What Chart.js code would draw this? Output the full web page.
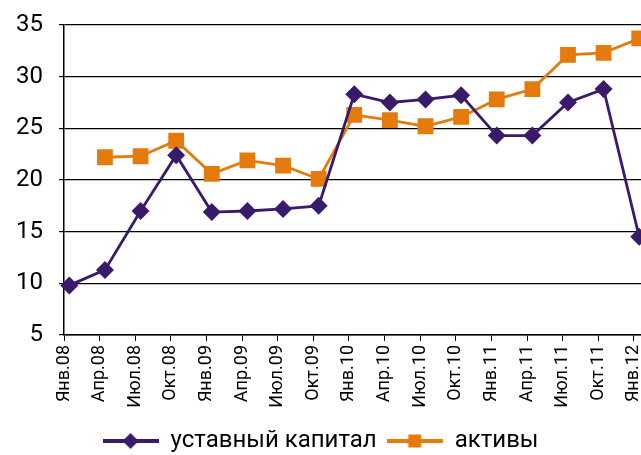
<!DOCTYPE html>
<html>
<head>
<meta charset="utf-8">
<script src="https://cdn.jsdelivr.net/npm/chart.js@4/dist/chart.umd.min.js"></script>
<style>
  html, body { margin: 0; padding: 0; background: #fff; overflow: hidden; }
  #wrap { width: 641px; height: 455px; }
</style>
</head>
<body>
<div id="wrap"><canvas id="chart"></canvas></div>
<script>
// quarter labels, placed at months since Jan 2008
const tickLabels = ["Янв.08", "Апр.08", "Июл.08", "Окт.08", "Янв.09", "Апр.09", "Июл.09", "Окт.09",
    "Янв.10", "Апр.10", "Июл.10", "Окт.10", "Янв.11", "Апр.11", "Июл.11", "Окт.11", "Янв.12"];
const tickMonths = [0, 3, 6, 9, 12, 15, 18, 21, 24, 27, 30, 33, 36, 39, 42, 45, 48];
// data points sit mid-month
const pointMonths = [0.45, 3.45, 6.45, 9.45, 12.45, 15.45, 18.45, 21.45, 24.45,
    27.45, 30.45, 33.45, 36.45, 39.45, 42.45, 45.45, 48.45];

const capital = [9.8, 11.3, 17.0, 22.4, 16.9, 17.0, 17.2, 17.5, 28.3, 27.5, 27.8, 28.2, 24.3, 24.3, 27.5, 28.8, 14.5];
const assets = [null, 22.2, 22.3, 23.8, 20.6, 21.9, 21.4, 20.1, 26.3, 25.8, 25.2, 26.1, 27.8, 28.8, 32.1, 32.3, 33.7];

const PURPLE = "#3a1a6a";
const ORANGE = "#e47b0c";

// legend marker: line with a point in the middle
const legendIcon = (color, shape) => {
    const c = document.createElement("canvas");
    c.width = 56;
    c.height = 18;
    const g = c.getContext("2d");
    g.strokeStyle = color;
    g.lineWidth = 4;
    g.beginPath();
    g.moveTo(0, 9);
    g.lineTo(56, 9);
    g.stroke();
    g.fillStyle = color;
    g.beginPath();
    if (shape === "diamond") {
        g.moveTo(28, 1);
        g.lineTo(36, 9);
        g.lineTo(28, 17);
        g.lineTo(20, 9);
        g.closePath();
    } else {
        g.rect(21.5, 2.5, 13, 13);
    }
    g.fill();
    return c;
};

const toPoints = (vals) => vals.map((v, i) => ({ x: pointMonths[i], y: v }));

new Chart(document.getElementById("chart"), {
    type: "line",
    data: {
        datasets: [
            {
                label: "уставный капитал",
                data: toPoints(capital),
                borderColor: PURPLE,
                backgroundColor: PURPLE,
                borderWidth: 2.8,
                pointStyle: "rectRot",
                pointRadius: 7,
                pointHoverRadius: 7,
                legendIcon: legendIcon(PURPLE, "diamond"),
            },
            {
                label: "активы",
                data: toPoints(assets),
                borderColor: ORANGE,
                backgroundColor: ORANGE,
                borderWidth: 2.8,
                pointStyle: "rect",
                pointRadius: 9.2,
                pointHoverRadius: 9.2,
                legendIcon: legendIcon(ORANGE, "square"),
            },
        ],
    },
    options: {
        responsive: true,
        maintainAspectRatio: false,
        animation: false,
        clip: false,
        layout: {
            autoPadding: false,
            padding: { top: 25, right: 0, left: 0, bottom: -8 },
        },
        plugins: {
            tooltip: { enabled: false },
            legend: {
                position: "bottom",
                labels: {
                    usePointStyle: true,
                    pointStyleWidth: 56,
                    padding: 10,
                    color: "#000",
                    font: { family: "Roboto", size: 24 },
                    generateLabels: (chart) =>
                        chart.data.datasets.map((ds, i) => ({
                            text: ds.label,
                            pointStyle: ds.legendIcon,
                            fillStyle: ds.borderColor,
                            strokeStyle: ds.borderColor,
                            lineWidth: 0,
                            datasetIndex: i,
                            hidden: false,
                        })),
                },
            },
        },
        scales: {
            x: {
                type: "linear",
                min: 0,
                max: 48.6,
                afterBuildTicks: (scale) => {
                    scale.ticks = tickMonths.map((m) => ({ value: m }));
                },
                afterFit: (scale) => {
                    scale.height = 84;
                    scale.paddingRight = 0;
                },
                ticks: {
                    autoSkip: false,
                    maxRotation: 90,
                    minRotation: 90,
                    padding: 4,
                    color: "#000",
                    font: { family: "Roboto", size: 18 },
                    callback: (value) => {
                        const idx = tickMonths.indexOf(value);
                        return idx >= 0 ? tickLabels[idx] : "";
                    },
                },
                grid: {
                    drawOnChartArea: false,
                    drawTicks: true,
                    tickLength: 6,
                    color: "#000",
                },
                border: { display: true, color: "#000", width: 1.5 },
            },
            y: {
                min: 5,
                max: 35,
                afterFit: (scale) => {
                    scale.width = 64;
                    scale.paddingTop = 0;
                    scale.paddingBottom = 0;
                },
                ticks: {
                    stepSize: 5,
                    padding: 16,
                    color: "#000",
                    font: { family: "Roboto", size: 24 },
                },
                grid: {
                    color: "#000",
                    lineWidth: 1.2,
                    tickLength: 5,
                },
                border: { display: true, color: "#000", width: 1.5 },
            },
        },
    },
});
</script>
</body>
</html>
